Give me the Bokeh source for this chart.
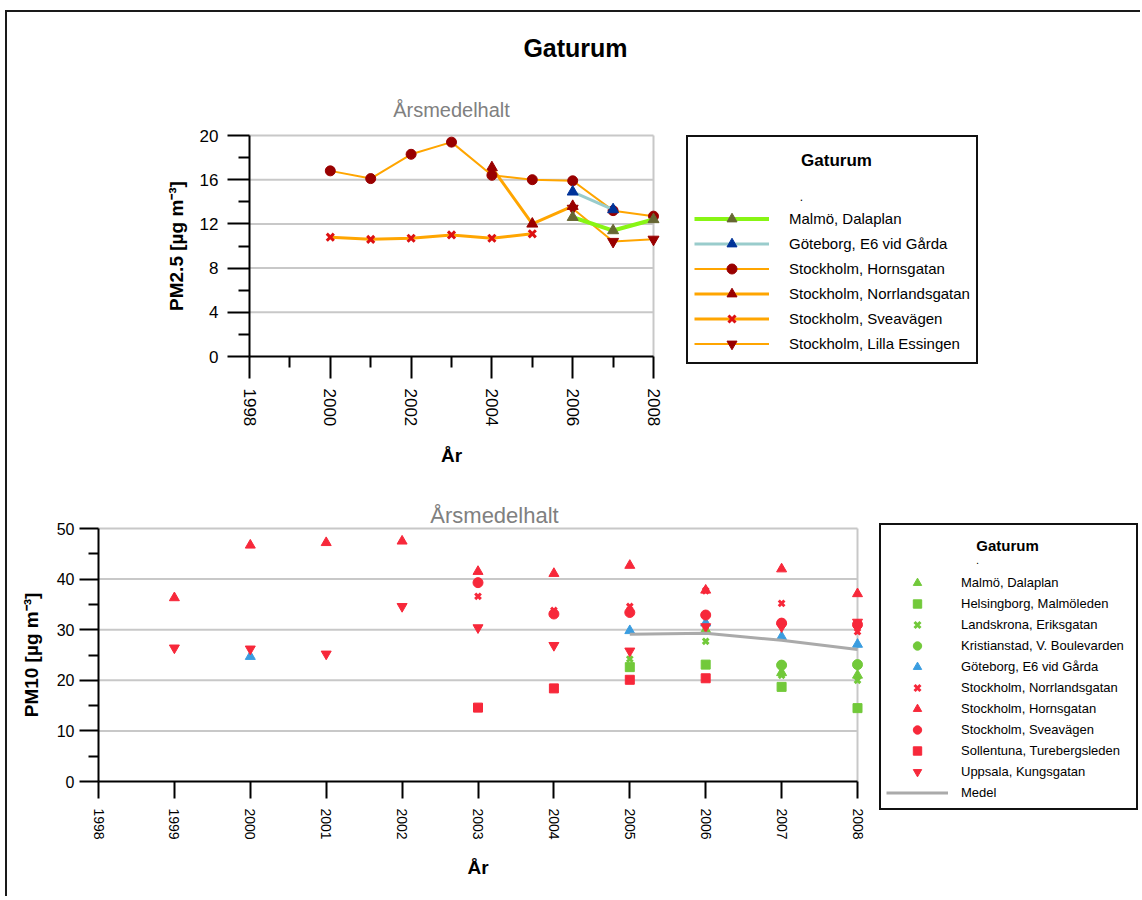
from bokeh.plotting import figure
from bokeh.models import Legend, LegendItem, Label, FixedTicker, Range1d, LinearAxis
from bokeh.embed import file_html
from bokeh.resources import INLINE

NaN = float("nan")
FONT = "Liberation Sans"

# ---------------- PM2.5 (top chart) ----------------
years_pm25 = [2000, 2001, 2002, 2003, 2004, 2005, 2006, 2007, 2008]
pm25_malmo = [NaN, NaN, NaN, NaN, NaN, NaN, 12.6, 11.4, 12.4]
pm25_goteborg = [NaN, NaN, NaN, NaN, NaN, NaN, 14.9, 13.3, NaN]
pm25_hornsgatan = [16.8, 16.1, 18.3, 19.4, 16.4, 16.0, 15.9, 13.2, 12.7]
pm25_norrlandsgatan = [NaN, NaN, NaN, NaN, 17.1, 12.0, 13.6, NaN, NaN]
pm25_sveavagen = [10.8, 10.6, 10.7, 11.0, 10.7, 11.1, NaN, NaN, NaN]
pm25_lilla_essingen = [NaN, NaN, NaN, NaN, NaN, NaN, 13.4, 10.4, 10.6]

pm25_names = ["Malmö, Dalaplan", "Göteborg, E6 vid Gårda", "Stockholm, Hornsgatan",
              "Stockholm, Norrlandsgatan", "Stockholm, Sveavägen", "Stockholm, Lilla Essingen"]
pm25_values = [pm25_malmo, pm25_goteborg, pm25_hornsgatan,
               pm25_norrlandsgatan, pm25_sveavagen, pm25_lilla_essingen]
pm25_line_colors = ["#88f514", "#99cccc", "#ffa500", "#ffa500", "#ffa500", "#ffa500"]
pm25_line_widths = [4, 3, 2, 3, 3, 2]
pm25_markers = ["triangle", "triangle", "circle", "triangle", "x", "inverted_triangle"]
pm25_marker_colors = ["#666633", "#003399", "#990000", "#990000", "#dd1111", "#990000"]

pm25_xticks = [1998, 2000, 2002, 2004, 2006, 2008]
pm25_xminor = [1999, 2001, 2003, 2005, 2007]
pm25_yticks = [0, 4, 8, 12, 16, 20]
pm25_yminor = [2, 6, 10, 14, 18]

# ---------------- PM10 (bottom chart) ----------------
years_pm10 = [1999, 2000, 2001, 2002, 2003, 2004, 2005, 2006, 2007, 2008]
pm10_malmo = [NaN, NaN, NaN, NaN, NaN, NaN, NaN, 30.0, 21.5, 21.0]
pm10_helsingborg = [NaN, NaN, NaN, NaN, NaN, NaN, 22.6, 23.1, 18.7, 14.5]
pm10_landskrona = [NaN, NaN, NaN, NaN, NaN, NaN, 24.2, 27.7, 21.0, 20.0]
pm10_kristianstad = [NaN, NaN, NaN, NaN, NaN, NaN, NaN, NaN, 23.0, 23.1]
pm10_goteborg = [NaN, 24.7, NaN, NaN, NaN, NaN, 29.8, 31.3, 28.6, 27.1]
pm10_norrlandsgatan = [NaN, NaN, NaN, NaN, 36.6, 33.8, 34.6, 37.7, 35.2, 29.6]
pm10_hornsgatan = [36.3, 46.7, 47.2, 47.5, 41.5, 41.1, 42.7, 37.8, 42.0, 37.1]
pm10_sveavagen = [NaN, NaN, NaN, NaN, 39.3, 33.1, 33.4, 32.9, 31.3, 31.0]
pm10_sollentuna = [NaN, NaN, NaN, NaN, 14.6, 18.4, 20.1, 20.4, NaN, NaN]
pm10_uppsala = [26.4, 26.2, 25.2, 34.6, 30.4, 26.9, 25.8, 30.6, 30.6, 31.5]
pm10_medel = [NaN, NaN, NaN, NaN, NaN, NaN, 29.1, 29.3, 27.9, 26.1]

pm10_names = ["Malmö, Dalaplan", "Helsingborg, Malmöleden", "Landskrona, Eriksgatan",
              "Kristianstad, V. Boulevarden", "Göteborg, E6 vid Gårda", "Stockholm, Norrlandsgatan",
              "Stockholm, Hornsgatan", "Stockholm, Sveavägen", "Sollentuna, Turebergsleden",
              "Uppsala, Kungsgatan"]
pm10_values = [pm10_malmo, pm10_helsingborg, pm10_landskrona, pm10_kristianstad, pm10_goteborg,
               pm10_norrlandsgatan, pm10_hornsgatan, pm10_sveavagen, pm10_sollentuna, pm10_uppsala]
GREEN, BLUE, RED = "#72c93a", "#3a9de0", "#f7283a"
pm10_colors = [GREEN, GREEN, GREEN, GREEN, BLUE, RED, RED, RED, RED, RED]
pm10_markers = ["triangle", "square", "x", "circle", "triangle", "x", "triangle", "circle",
                "square", "inverted_triangle"]

pm10_xticks = [1998, 1999, 2000, 2001, 2002, 2003, 2004, 2005, 2006, 2007, 2008]
pm10_yticks = [0, 10, 20, 30, 40, 50]
pm10_yminor = [5, 15, 25, 35, 45]

W = 1135


def data_range(v0, v1, p0, p1, size):
    """range whose value v0 sits at pixel p0 and v1 at pixel p1 (pixels from range start)"""
    scale = (v1 - v0) / (p1 - p0)
    start = v0 - p0 * scale
    return Range1d(start, start + size * scale)


def make_fig(H, x_pix, y_pix, xlim, ylim, styles):
    p = figure(width=W, height=H, output_backend="svg", toolbar_location=None,
               x_axis_type=None, y_axis_type=None,
               x_range=data_range(xlim[0], xlim[1], x_pix[0], x_pix[1], W),
               y_range=data_range(ylim[0], ylim[1], H - y_pix[0], H - y_pix[1], H),
               min_border=0, min_border_left=0, min_border_right=0,
               min_border_top=0, min_border_bottom=0, styles=styles)
    p.outline_line_color = None
    p.background_fill_color = "white"
    p.border_fill_color = "white"
    return p


def add_axes(p, xlim, ylim, xt, xminor, yt, yminor, x_out, y_out, xfs, yfs, xstand, ystand,
             ylabel, xlab_stand, ylab_stand):
    ax = LinearAxis(fixed_location=ylim[0], bounds=xlim,
                    ticker=FixedTicker(ticks=xt, minor_ticks=xminor))
    ay = LinearAxis(fixed_location=xlim[0], bounds=ylim,
                    ticker=FixedTicker(ticks=yt, minor_ticks=yminor))
    for a in (ax, ay):
        a.axis_line_width = 2
        a.axis_line_color = "black"
        a.major_tick_line_width = 2
        a.minor_tick_line_width = 2
        a.major_tick_line_color = "black"
        a.minor_tick_line_color = "black"
        a.major_tick_in = 0
        a.minor_tick_in = 0
        a.major_label_text_font = FONT
        a.major_label_text_color = "black"
        a.axis_label_text_font = FONT
        a.axis_label_text_font_style = "bold"
        a.axis_label_text_font_size = "19px"
        a.axis_label_text_color = "black"
    ax.major_tick_out, ax.minor_tick_out = x_out
    ay.major_tick_out, ay.minor_tick_out = y_out
    ax.major_label_orientation = "vertical"
    ax.major_label_text_font_size = xfs
    ay.major_label_text_font_size = yfs
    ax.major_label_standoff = xstand
    ay.major_label_standoff = ystand
    ax.axis_label = "År"
    ay.axis_label = ylabel
    ax.axis_label_standoff = xlab_stand
    ay.axis_label_standoff = ylab_stand
    p.add_layout(ax, "below")
    p.add_layout(ay, "left")


def add_grid(p, xlim, ylim, yt):
    g = [v for v in yt if v != ylim[0]]
    p.segment(x0=[xlim[0]] * len(g), y0=g, x1=[xlim[1]] * len(g), y1=g,
              line_color="#c8c8c8", line_width=2)
    p.segment(x0=[xlim[1]], y0=[ylim[0]], x1=[xlim[1]], y1=[ylim[1]],
              line_color="#c8c8c8", line_width=2)


def label(p, x, y, text, size, bold=False, color="black"):
    p.add_layout(Label(x=x, y=y, x_units="screen", y_units="screen", text=text,
                       text_align="center", text_baseline="alphabetic", text_font=FONT,
                       text_font_size=size, text_font_style="bold" if bold else "normal",
                       text_color=color, level="overlay"))


BORDER = "2px solid #1a1a1a"

# ================= top figure =================
H1 = 468
X1LIM, Y1LIM = (1998, 2008), (0, 20)
p1 = make_fig(H1, (242, 646), (344, 123), X1LIM, Y1LIM,
              {"margin-left": "5px", "margin-top": "10px", "border-left": BORDER, "border-top": BORDER})
add_grid(p1, X1LIM, Y1LIM, pm25_yticks)
add_axes(p1, X1LIM, Y1LIM, pm25_xticks, pm25_xminor, pm25_yticks, pm25_yminor,
         (22, 11), (22, 11), "17px", "17px", 10, 9, "PM2.5 [µg m⁻³]", 16, 10)

items1 = {}
for i in reversed(range(len(pm25_names))):
    lr = p1.line(years_pm25, pm25_values[i], line_color=pm25_line_colors[i],
                 line_width=pm25_line_widths[i])
    mk = pm25_markers[i]
    if mk == "x":
        sr = p1.scatter(years_pm25, pm25_values[i], marker="x", size=10,
                        line_color=pm25_marker_colors[i], line_width=3)
    else:
        sr = p1.scatter(years_pm25, pm25_values[i], marker=mk, size=11 if mk != "circle" else 10,
                        fill_color=pm25_marker_colors[i], line_color=pm25_marker_colors[i])
    items1[i] = LegendItem(label=pm25_names[i], renderers=[lr, sr])

leg1 = Legend(items=[items1[i] for i in range(len(pm25_names))], location=(679, 116),
              title=" ", title_text_font_size="15px", title_standoff=46,
              padding=6, spacing=0, margin=0, glyph_width=75, glyph_height=25, label_height=25,
              label_width=181, label_standoff=20, label_text_font=FONT, label_text_font_size="15px",
              label_text_color="black",
              border_line_color="#111111", border_line_width=2, border_line_alpha=1,
              background_fill_color="white", background_fill_alpha=0)
p1.add_layout(leg1, "center")

label(p1, 568, 433, "Gaturum", "25px", bold=True)
label(p1, 444, 371, "Årsmedelhalt", "20px", color="#808080")
label(p1, 829, 320, "Gaturum", "17px", bold=True)
label(p1, 794, 284, ".", "12px")

# ================= bottom figure =================
H2 = 418
X2LIM, Y2LIM = (1998, 2008), (0, 50)
p2 = make_fig(H2, (91, 850), (303, 50), X2LIM, Y2LIM,
              {"margin-left": "5px", "border-left": BORDER})
add_grid(p2, X2LIM, Y2LIM, pm10_yticks)
add_axes(p2, X2LIM, Y2LIM, pm10_xticks, [], pm10_yticks, pm10_yminor,
         (17, 0), (19, 10), "14px", "16px", 10, 5, "PM10 [µg m⁻³]", 14, 12)

items2 = []
for i in range(len(pm10_names)):
    mk = pm10_markers[i]
    if mk == "x":
        sr = p2.scatter(years_pm10, pm10_values[i], marker="x", size=8, line_color=pm10_colors[i],
                        line_width=3)
    else:
        sr = p2.scatter(years_pm10, pm10_values[i], marker=mk, size=9 if mk == "square" else 10,
                        fill_color=pm10_colors[i], line_color=pm10_colors[i])
    items2.append(LegendItem(label=pm10_names[i], renderers=[sr]))
mr = p2.line(years_pm10, pm10_medel, line_color="#aaaaaa", line_width=3)
items2.append(LegendItem(label="Medel", renderers=[mr]))

leg2 = Legend(items=items2, location=(872, 86),
              title=" ", title_text_font_size="13px", title_standoff=27,
              padding=5, spacing=0, margin=0, glyph_width=62, glyph_height=21, label_height=21,
              label_width=170, label_standoff=13, label_text_font=FONT, label_text_font_size="13px",
              label_text_color="black",
              border_line_color="#111111", border_line_width=2, border_line_alpha=1,
              background_fill_color="white", background_fill_alpha=0)
p2.add_layout(leg2, "center")

label(p2, 487, 381, "Årsmedelhalt", "22px", color="#808080")
label(p2, 1000, 351, "Gaturum", "15px", bold=True)
label(p2, 970, 337, ".", "11px")

open("out.html", "w").write(file_html([p1, p2], INLINE))
